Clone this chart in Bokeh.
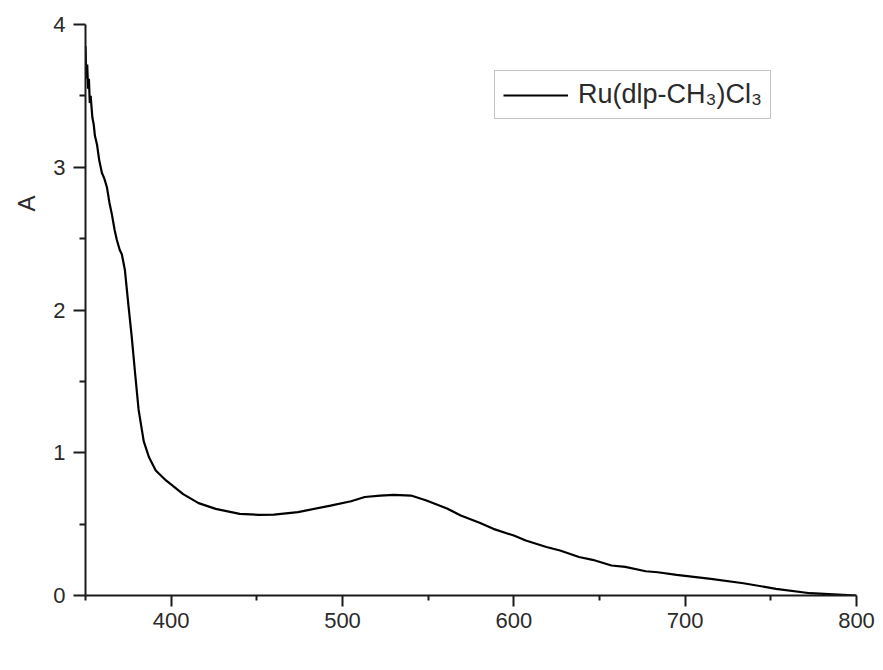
from bokeh.plotting import figure
from bokeh.models import Range1d, FixedTicker, Label, Legend, LegendItem, Title
from bokeh.embed import file_html
from bokeh.resources import INLINE

# Data (wavelength in nm, absorbance)
wavelength = [350, 350.5, 351, 351.5, 352, 352.5, 353, 354, 354.8, 355.5, 356.7, 358,
              359.6, 361, 362.5, 364, 365.4, 367, 368.3, 370, 371.2, 373, 375, 377,
              379, 381, 384, 387, 391, 397, 407, 416, 426, 440, 451, 460, 474, 493,
              505, 513, 522, 530, 540, 549, 561, 569, 580, 588, 600, 607, 619, 627,
              638, 646, 657, 665, 677, 684, 695, 715, 734, 753, 773, 792, 800]
absorbance = [3.85, 3.62, 3.72, 3.55, 3.62, 3.45, 3.50, 3.35, 3.30, 3.22, 3.16, 3.05,
              2.96, 2.92, 2.86, 2.75, 2.67, 2.56, 2.49, 2.42, 2.39, 2.28, 2.04, 1.81,
              1.55, 1.30, 1.08, 0.97, 0.876, 0.806, 0.71, 0.647, 0.607, 0.572, 0.565,
              0.567, 0.584, 0.63, 0.66, 0.69, 0.70, 0.705, 0.70, 0.665, 0.61, 0.56,
              0.51, 0.467, 0.42, 0.385, 0.34, 0.315, 0.27, 0.25, 0.21, 0.20, 0.17,
              0.163, 0.145, 0.117, 0.086, 0.047, 0.016, 0.005, 0.0]

x_major = [400, 500, 600, 700, 800]
x_minor = [350, 450, 550, 650, 750]
y_major = [0, 1, 2, 3, 4]
y_minor = [0.5, 1.5, 2.5, 3.5]
series_label = "Ru(dlp-CH\u2083)Cl\u2083"
x_title = "\u03bb(nm)"
y_title = "A"

FONT = "Liberation Sans"
INK = "#1a1a1a"
TXT = "#2a2a2a"

p = figure(width=875, height=662, output_backend="svg", toolbar_location=None,
           x_range=Range1d(350, 800), y_range=Range1d(0, 4),
           min_border_left=85, min_border_right=19, min_border_top=24,
           min_border_bottom=67)
p.outline_line_color = None
p.grid.visible = False
p.background_fill_color = "white"
p.border_fill_color = "white"

r = p.line(wavelength, absorbance, line_color="black", line_width=2.2)

for ax, maj, mnr, out_major, out_minor in (
        (p.xaxis[0], x_major, x_minor, 11, 5),
        (p.yaxis[0], y_major, y_minor, 12, 6)):
    ax.ticker = FixedTicker(ticks=maj, minor_ticks=mnr)
    ax.axis_line_color = INK
    ax.axis_line_width = 2
    ax.major_tick_line_color = INK
    ax.major_tick_line_width = 2
    ax.minor_tick_line_color = INK
    ax.minor_tick_line_width = 2
    ax.major_tick_out = out_major
    ax.major_tick_in = 0
    ax.minor_tick_out = out_minor
    ax.minor_tick_in = 0
    ax.major_label_text_font = FONT
    ax.major_label_text_font_size = "22px"
    ax.major_label_text_color = TXT

p.xaxis[0].major_label_standoff = 6
p.yaxis[0].major_label_standoff = 8

p.add_layout(Label(x=791.5, y=-0.37, text=x_title, text_align="right",
                   text_baseline="middle", text_font=FONT, text_font_size="23px",
                   text_color=TXT))
p.add_layout(Title(text=y_title, align="right", offset=171, text_font=FONT,
                   text_font_size="24px", text_font_style="normal",
                   text_color=TXT, standoff=21), "left")

legend = Legend(items=[LegendItem(label=series_label, renderers=[r])],
                location=(409, 476), margin=0, padding=8, spacing=0,
                glyph_width=65, glyph_height=28, label_height=28, label_standoff=10,
                label_text_font=FONT, label_text_font_size="27px",
                label_text_color=TXT,
                border_line_color="#8a8a8a", border_line_width=1.5,
                background_fill_alpha=1)
p.add_layout(legend)

open("out.html", "w").write(file_html(p, INLINE))
